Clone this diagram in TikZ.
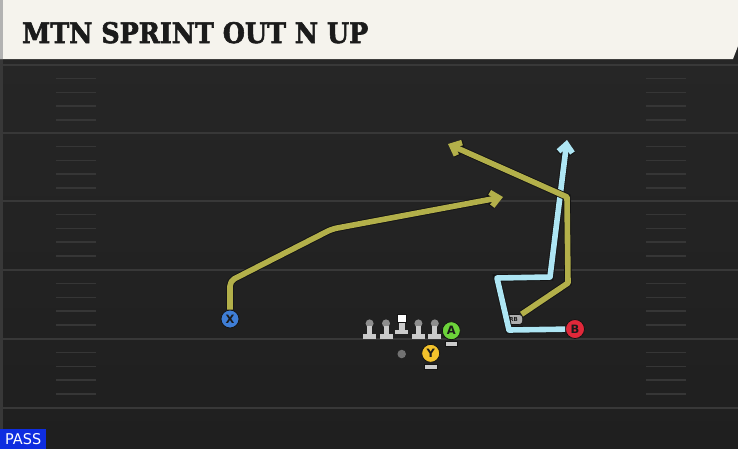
\documentclass[tikz,border=0pt]{standalone}
\usepackage{fontspec}
\usepackage{graphicx}
\usetikzlibrary{arrows.meta}

\newfontfamily\titlefont[FakeBold=2.2]{DejaVu Serif}
\newfontfamily\markfont{DejaVu Sans}

\definecolor{fieldtop}{HTML}{272727}
\definecolor{fieldbot}{HTML}{1F1F1F}
\definecolor{yardcol}{HTML}{383838}
\definecolor{hashcol}{HTML}{363636}
\definecolor{barcol}{HTML}{F5F3ED}
\definecolor{inkcol}{HTML}{1B1B1B}
\definecolor{routeyel}{HTML}{B3B04A}
\definecolor{routeblu}{HTML}{AEE6F4}
\definecolor{routeedge}{HTML}{141414}
\definecolor{xcol}{HTML}{3F7ED6}
\definecolor{acol}{HTML}{6CD33A}
\definecolor{ycol}{HTML}{F3C22C}
\definecolor{bcol}{HTML}{E1283A}
\definecolor{headcol}{HTML}{8E8E8E}
\definecolor{stemcol}{HTML}{CBCBCB}
\definecolor{passcol}{HTML}{0E2DE0}

\begin{document}
\begin{tikzpicture}[
        x = 1pt, y = -1pt, % one unit per pixel, y pointing down
        > = {Straight Barb[length=8pt, width=14pt]}, % arrow head style
        node distance = 16.4pt, % distance between linemen
        yardline/.style = {draw=yardcol, line width=2pt},
        hash/.style = {draw=hashcol, line width=1.5pt},
        route/.style = {line width=5.6pt, line join=round,
            preaction={draw=routeedge, line width=7.4pt}},
        player/.style = {circle, draw=routeedge, line width=0.8pt,
            minimum size=18pt, inner sep=0pt, text=inkcol,
            font=\markfont\bfseries\fontsize{11.5}{11.5}\selectfont},
        lineman/.style = {circle, fill=headcol, minimum size=8pt,
            inner sep=0pt},
        pinbase/.style = {fill=stemcol}
    ]

    \useasboundingbox (0,0) rectangle (738,448);

    % field
    \shade[top color=fieldtop, bottom color=fieldbot] (0,0) rectangle (738,448);
    \fill[yardcol] (0,0) rectangle (2.5,448);
    \foreach \y in {65,133,201,270,339,408}
        \draw[yardline] (2.5,\y) -- (738,\y);
    \foreach \s in {65,133,201,270,339}
        \foreach \k in {1,...,4} {
            \draw[hash] (56,{\s+13.7*\k}) -- (96,{\s+13.7*\k});
            \draw[hash] (646,{\s+13.7*\k}) -- (686,{\s+13.7*\k});
        }

    % title bar
    \fill[barcol] (0,0) -- (738,0) -- (738,46) -- (733,59) -- (0,59) -- cycle;
    \fill[black!30] (0,0) rectangle (2.5,59);
    \node[anchor=base west, inner sep=0pt, text=inkcol] (title) at (22,43)
        {\resizebox{346pt}{21pt}{\titlefont\bfseries MTN SPRINT OUT N UP}};

    % offensive line
    \node[lineman] (LT) at (369.6,323.4) {}; \node[lineman] (LG) [right of=LT] {};
    \node[draw=routeedge, fill=white, minimum width=9.5pt, minimum height=8.5pt,
        inner sep=0pt] (C) at (401.8,318.2) {};
    \node[lineman] (RG) at (418.4,323.4) {}; \node[lineman] (RT) [right of=RG] {};

    \foreach \p in {LT,LG,RG,RT} {
        \fill[pinbase] ([shift={(-2.5,3)}]\p.center) rectangle ++(5,8.5);
        \fill[pinbase] ([shift={(-6.5,11)}]\p.center) rectangle ++(13,4.6);
    }
    \fill[pinbase] ([shift={(-2.8,0)}]C.south) rectangle ++(5.6,7);
    \fill[pinbase] ([shift={(-6.5,7)}]C.south) rectangle ++(13,4.2);

    % backfield and receivers
    \node[player, fill=acol] (A) at (451.3,330.7) {A};
    \fill[pinbase, draw=routeedge, line width=0.5pt]
        ([shift={(-6.2,1)}]A.south) rectangle ++(12.4,5);
    \node[player, fill=ycol] (Y) at (430.7,353.3) {Y};
    \fill[pinbase, draw=routeedge, line width=0.5pt]
        ([shift={(-6.2,1.5)}]Y.south) rectangle ++(12.4,5);
    \node[circle, fill=headcol!80!black, minimum size=8.5pt, inner sep=0pt]
        (ball) at (401.7,354) {};
    \node[player, fill=xcol] (X) at (230,319) {X};
    \node[player, fill=bcol, minimum size=19pt] (B) at (575,329) {B};
    \node[draw=routeedge, fill=black!32, rounded corners=3.5pt, line width=0.6pt,
        minimum width=18pt, minimum height=10pt, inner sep=0pt, text=inkcol,
        font=\markfont\bfseries\fontsize{5.5}{5.5}\selectfont] (RB) at (513.7,319.5) {RB};

    % routes
    \coordinate (x1) at (230,281); \coordinate (x2) at (332,229);
    \coordinate (x3) at (503,197);
    \coordinate (b1) at (509,330); \coordinate (b2) at (497,278);
    \coordinate (b3) at (550,277); \coordinate (b4) at (567,140);
    \coordinate (r1) at (568,283); \coordinate (r2) at (567,197);
    \coordinate (r3) at (448,144);

    \draw[route, draw=routeblu, ->] (B) -- (b1) -- (b2) -- (b3) -- (b4);
    \draw[route, draw=routeyel, ->] (RB) -- (r1) -- (r2) -- (r3);
    \draw[route, draw=routeyel, ->, rounded corners=5pt] (X) -- (x1) -- (x2) -- (x3);

    % play type
    \node[fill=passcol, text=white, minimum width=46pt, minimum height=20pt,
        inner sep=0pt, anchor=south west] (pass) at (0,449.5)
        {\resizebox{36pt}{11pt}{\markfont PASS}};

\end{tikzpicture}
\end{document}
